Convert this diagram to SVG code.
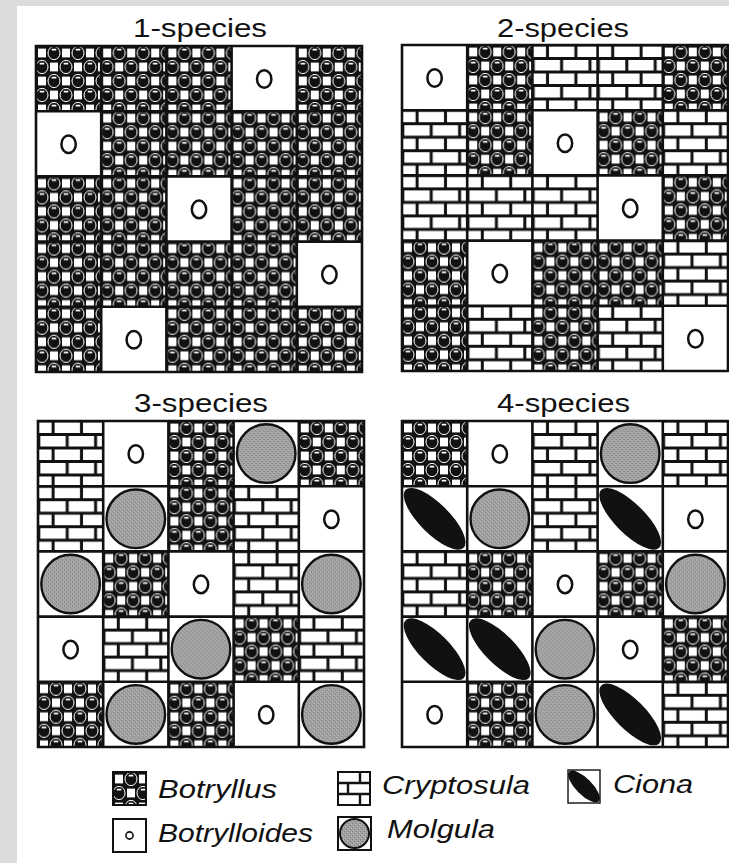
<svg xmlns="http://www.w3.org/2000/svg" width="729" height="863" viewBox="0 0 729 863">
<style>
.title{font-family:"Liberation Sans",Arial,sans-serif;font-size:26px;fill:#111}
.leg{font-family:"Liberation Sans",Arial,sans-serif;font-size:26px;font-style:italic;fill:#111}
.gl{fill:none;stroke:#111;stroke-width:2.6}
.ib{fill:none;stroke:#111;stroke-width:2}
</style>
<defs>
<pattern id="pB" patternUnits="userSpaceOnUse" width="24" height="28">
<rect width="24" height="28" fill="#111"/>
<rect x="2" y="2.6" width="8" height="8.8" fill="#fff"/>
<rect x="14" y="16.6" width="8" height="8.8" fill="#fff"/>
<rect x="-10" y="16.6" width="8" height="8.8" fill="#fff"/>
<ellipse cx="18" cy="7" rx="6" ry="6.6" fill="#111" stroke="#fff" stroke-width="1"/>
<ellipse cx="-6" cy="7" rx="6" ry="6.6" fill="#111" stroke="#fff" stroke-width="1"/>
<ellipse cx="6" cy="21" rx="6" ry="6.6" fill="#111" stroke="#fff" stroke-width="1"/>
<ellipse cx="30" cy="21" rx="6" ry="6.6" fill="#111" stroke="#fff" stroke-width="1"/>
<rect x="15.6" y="2.8" width="4.8" height="1.8" rx="0.9" fill="#fff"/>
<rect x="3.6" y="16.8" width="4.8" height="1.8" rx="0.9" fill="#fff"/>
</pattern>
<pattern id="pC" patternUnits="userSpaceOnUse" width="28.4" height="27">
<rect width="28.4" height="27" fill="#fff"/>
<rect y="0" width="28.4" height="1.5" fill="#111"/>
<rect y="25.5" width="28.4" height="1.5" fill="#111"/>
<rect y="12" width="28.4" height="3" fill="#111"/>
<rect x="13.6" y="0" width="3" height="13.5" fill="#111"/>
<rect x="-0.7" y="13.5" width="3" height="13.5" fill="#111"/>
<rect x="27.7" y="13.5" width="3" height="13.5" fill="#111"/>
</pattern>
<pattern id="pM" patternUnits="userSpaceOnUse" width="4" height="4">
<rect width="4" height="4" fill="#a2a2a2"/>
<rect x="0" y="0" width="1" height="1" fill="#767676"/>
<rect x="2" y="2" width="1" height="1" fill="#7e7e7e"/>
<rect x="3" y="1" width="1" height="1" fill="#bdbdbd"/>
<rect x="1" y="3" width="1" height="1" fill="#b8b8b8"/>
</pattern>
<clipPath id="cellClip"><rect width="65.2" height="65.2"/></clipPath>
<clipPath id="iconClip"><rect width="32" height="33"/></clipPath>
<g id="cB"><rect width="65.2" height="65.2" fill="url(#pB)"/></g>
<g id="cO"><rect width="65.2" height="65.2" fill="#fff"/><ellipse cx="32.6" cy="33" rx="7.2" ry="8.8" fill="none" stroke="#111" stroke-width="2.5"/></g>
<g id="cC"><rect width="65.2" height="65.2" fill="url(#pC)"/></g>
<g id="cM"><rect width="65.2" height="65.2" fill="#fff"/><circle cx="32.6" cy="32.6" r="29.3" fill="url(#pM)" stroke="#111" stroke-width="2.4"/></g>
<g id="cI"><rect width="65.2" height="65.2" fill="#fff"/><g clip-path="url(#cellClip)"><ellipse cx="32.6" cy="32.6" rx="41" ry="15" transform="rotate(45 32.6 32.6)" fill="#111"/></g></g>
<path id="grid" d="M0 0H326V326H0Z M65.2 0V326 M130.4 0V326 M195.6 0V326 M260.8 0V326 M0 65.2H326 M0 130.4H326 M0 195.6H326 M0 260.8H326"/>
</defs>

<rect width="729" height="863" fill="#dcdcdc"/>
<rect x="17" y="6" width="712" height="857" fill="#fff"/>

<g id="panel-1-species">
<text class="title" x="133" y="37" textLength="134" lengthAdjust="spacingAndGlyphs">1-species</text>
<g transform="translate(36,46)">
<use href="#cB" x="0" y="0"/><use href="#cB" x="65.2" y="0"/><use href="#cB" x="130.4" y="0"/><use href="#cO" x="195.6" y="0"/><use href="#cB" x="260.8" y="0"/>
<use href="#cO" x="0" y="65.2"/><use href="#cB" x="65.2" y="65.2"/><use href="#cB" x="130.4" y="65.2"/><use href="#cB" x="195.6" y="65.2"/><use href="#cB" x="260.8" y="65.2"/>
<use href="#cB" x="0" y="130.4"/><use href="#cB" x="65.2" y="130.4"/><use href="#cO" x="130.4" y="130.4"/><use href="#cB" x="195.6" y="130.4"/><use href="#cB" x="260.8" y="130.4"/>
<use href="#cB" x="0" y="195.6"/><use href="#cB" x="65.2" y="195.6"/><use href="#cB" x="130.4" y="195.6"/><use href="#cB" x="195.6" y="195.6"/><use href="#cO" x="260.8" y="195.6"/>
<use href="#cB" x="0" y="260.8"/><use href="#cO" x="65.2" y="260.8"/><use href="#cB" x="130.4" y="260.8"/><use href="#cB" x="195.6" y="260.8"/><use href="#cB" x="260.8" y="260.8"/>
<use href="#grid" class="gl"/>
</g>
</g>

<g id="panel-2-species">
<text class="title" x="497" y="37" textLength="132" lengthAdjust="spacingAndGlyphs">2-species</text>
<g transform="translate(402,45)">
<use href="#cO" x="0" y="0"/><use href="#cB" x="65.2" y="0"/><use href="#cC" x="130.4" y="0"/><use href="#cC" x="195.6" y="0"/><use href="#cB" x="260.8" y="0"/>
<use href="#cC" x="0" y="65.2"/><use href="#cB" x="65.2" y="65.2"/><use href="#cO" x="130.4" y="65.2"/><use href="#cB" x="195.6" y="65.2"/><use href="#cC" x="260.8" y="65.2"/>
<use href="#cC" x="0" y="130.4"/><use href="#cC" x="65.2" y="130.4"/><use href="#cC" x="130.4" y="130.4"/><use href="#cO" x="195.6" y="130.4"/><use href="#cB" x="260.8" y="130.4"/>
<use href="#cB" x="0" y="195.6"/><use href="#cO" x="65.2" y="195.6"/><use href="#cB" x="130.4" y="195.6"/><use href="#cB" x="195.6" y="195.6"/><use href="#cC" x="260.8" y="195.6"/>
<use href="#cB" x="0" y="260.8"/><use href="#cC" x="65.2" y="260.8"/><use href="#cB" x="130.4" y="260.8"/><use href="#cC" x="195.6" y="260.8"/><use href="#cO" x="260.8" y="260.8"/>
<use href="#grid" class="gl"/>
</g>
</g>

<g id="panel-3-species">
<text class="title" x="134" y="412" textLength="134" lengthAdjust="spacingAndGlyphs">3-species</text>
<g transform="translate(38,421)">
<use href="#cC" x="0" y="0"/><use href="#cO" x="65.2" y="0"/><use href="#cB" x="130.4" y="0"/><use href="#cM" x="195.6" y="0"/><use href="#cB" x="260.8" y="0"/>
<use href="#cC" x="0" y="65.2"/><use href="#cM" x="65.2" y="65.2"/><use href="#cB" x="130.4" y="65.2"/><use href="#cC" x="195.6" y="65.2"/><use href="#cO" x="260.8" y="65.2"/>
<use href="#cM" x="0" y="130.4"/><use href="#cB" x="65.2" y="130.4"/><use href="#cO" x="130.4" y="130.4"/><use href="#cC" x="195.6" y="130.4"/><use href="#cM" x="260.8" y="130.4"/>
<use href="#cO" x="0" y="195.6"/><use href="#cC" x="65.2" y="195.6"/><use href="#cM" x="130.4" y="195.6"/><use href="#cB" x="195.6" y="195.6"/><use href="#cC" x="260.8" y="195.6"/>
<use href="#cB" x="0" y="260.8"/><use href="#cM" x="65.2" y="260.8"/><use href="#cB" x="130.4" y="260.8"/><use href="#cO" x="195.6" y="260.8"/><use href="#cM" x="260.8" y="260.8"/>
<use href="#grid" class="gl"/>
</g>
</g>

<g id="panel-4-species">
<text class="title" x="497" y="412" textLength="133" lengthAdjust="spacingAndGlyphs">4-species</text>
<g transform="translate(402,421)">
<use href="#cB" x="0" y="0"/><use href="#cO" x="65.2" y="0"/><use href="#cC" x="130.4" y="0"/><use href="#cM" x="195.6" y="0"/><use href="#cC" x="260.8" y="0"/>
<use href="#cI" x="0" y="65.2"/><use href="#cM" x="65.2" y="65.2"/><use href="#cC" x="130.4" y="65.2"/><use href="#cI" x="195.6" y="65.2"/><use href="#cO" x="260.8" y="65.2"/>
<use href="#cC" x="0" y="130.4"/><use href="#cB" x="65.2" y="130.4"/><use href="#cO" x="130.4" y="130.4"/><use href="#cB" x="195.6" y="130.4"/><use href="#cM" x="260.8" y="130.4"/>
<use href="#cI" x="0" y="195.6"/><use href="#cI" x="65.2" y="195.6"/><use href="#cM" x="130.4" y="195.6"/><use href="#cO" x="195.6" y="195.6"/><use href="#cB" x="260.8" y="195.6"/>
<use href="#cO" x="0" y="260.8"/><use href="#cB" x="65.2" y="260.8"/><use href="#cM" x="130.4" y="260.8"/><use href="#cI" x="195.6" y="260.8"/><use href="#cC" x="260.8" y="260.8"/>
<use href="#grid" class="gl"/>
</g>
</g>

<g id="legend">
<g id="legend-botryllus">
<g transform="translate(113,772)"><rect width="33" height="33" fill="url(#pB)"/><rect width="33" height="33" class="ib"/></g>
<text class="leg" x="158" y="798" textLength="119" lengthAdjust="spacingAndGlyphs">Botryllus</text>
</g>
<g id="legend-botrylloides">
<g transform="translate(113,819)"><rect width="33" height="33" fill="#fff" class="ib"/><circle cx="16.5" cy="16.5" r="3.6" fill="none" stroke="#111" stroke-width="1.6"/></g>
<text class="leg" x="158" y="842" textLength="155" lengthAdjust="spacingAndGlyphs">Botrylloides</text>
</g>
<g id="legend-cryptosula">
<g transform="translate(338,772)"><rect width="32" height="33" fill="#fff"/><path d="M0 11H32M0 22H32M22 0V11M10 11V22M22 22V33" stroke="#111" stroke-width="2.4" fill="none"/><rect width="32" height="33" class="ib"/></g>
<text class="leg" x="382" y="794" textLength="148" lengthAdjust="spacingAndGlyphs">Cryptosula</text>
</g>
<g id="legend-molgula">
<g transform="translate(338,817)"><rect width="33" height="33" fill="#fff" class="ib"/><circle cx="16.5" cy="16.5" r="14.5" fill="url(#pM)" stroke="#111" stroke-width="2"/></g>
<text class="leg" x="387" y="838" textLength="108" lengthAdjust="spacingAndGlyphs">Molgula</text>
</g>
<g id="legend-ciona">
<g transform="translate(568,770)"><rect width="32" height="33" fill="#fff"/><g clip-path="url(#iconClip)"><ellipse cx="16" cy="16.5" rx="21" ry="8" transform="rotate(45 16 16.5)" fill="#111"/></g><rect width="32" height="33" fill="none" stroke="#111" stroke-width="1.4"/></g>
<text class="leg" x="613" y="793" textLength="80" lengthAdjust="spacingAndGlyphs">Ciona</text>
</g>
</g>
</svg>
